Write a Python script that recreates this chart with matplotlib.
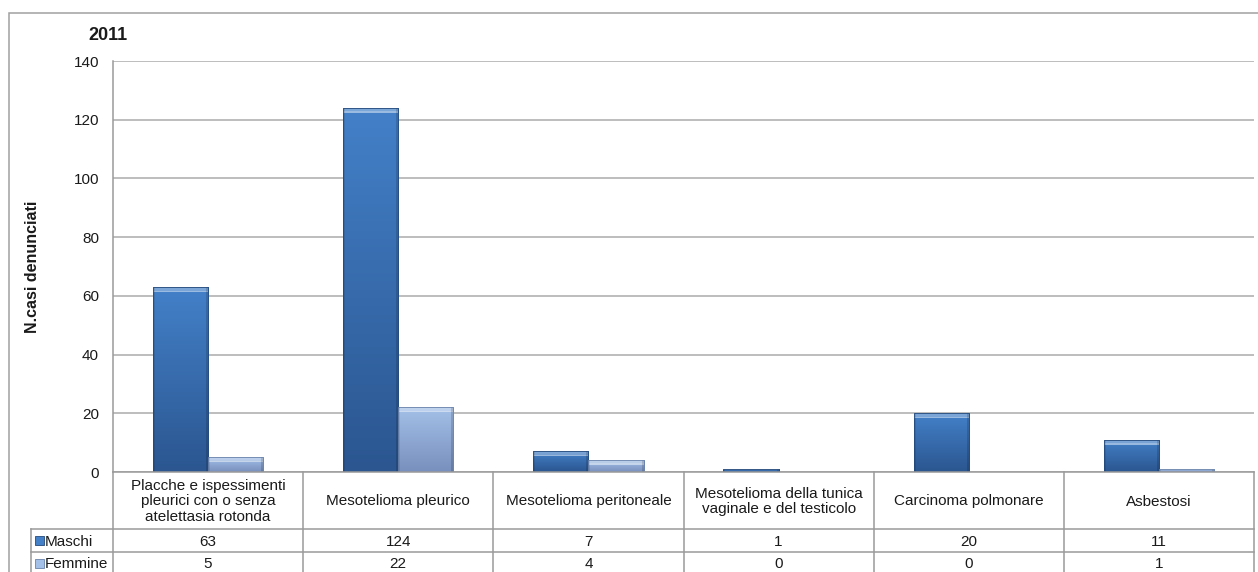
import numpy as np
import matplotlib
matplotlib.use("Agg")
import matplotlib.pyplot as plt
from matplotlib.patches import Rectangle
from matplotlib.lines import Line2D
from matplotlib.transforms import blended_transform_factory
from matplotlib.colors import LinearSegmentedColormap

plt.rcParams['font.family'] = ['Liberation Sans', 'DejaVu Sans']

# ---- data -------------------------------------------------------------
categories = [
    "Placche e ispessimenti\npleurici con o senza\natelettasia rotonda",
    "Mesotelioma pleurico",
    "Mesotelioma peritoneale",
    "Mesotelioma della tunica\nvaginale e del testicolo",
    "Carcinoma polmonare",
    "Asbestosi",
]
series_names = ["Maschi", "Femmine"]
maschi = [63, 124, 7, 1, 20, 11]
femmine = [5, 22, 4, 0, 0, 1]
yticks = [0, 20, 40, 60, 80, 100, 120, 140]
title = "2011"
ylabel = "N.casi denunciati"

# ---- styling ----------------------------------------------------------
W, H = 1258, 572
DPI = 100
grad_m = ["#4380c8", "#2b5690"]   # top -> bottom
grad_f = ["#a3c0e8", "#7890bd"]
edge_m = "#24497a"
edge_f = "#6a82ab"
line_c = "#9a9a9a"
grid_c = "#ababab"
txt_c = "#1a1a1a"
FS = 11

fig = plt.figure(figsize=(W / DPI, H / DPI), dpi=DPI)
fig.patch.set_facecolor("white")


def fx(px):
    return px / W


def fy(py):  # py measured from the top
    return 1 - py / H


ax_left, ax_right, ax_top, ax_bot = 113, 1254, 61, 472
ax = fig.add_axes([fx(ax_left), fy(ax_bot), fx(ax_right - ax_left), (ax_bot - ax_top) / H])

n = len(categories)
x = np.arange(n)
bw = 0.29

ax.set_xlim(-0.5, n - 0.5)
ax.set_ylim(0, 140)
ax.set_yticks(yticks)
ax.set_yticklabels([str(t) for t in yticks], fontsize=FS, color=txt_c)
ax.tick_params(axis='y', length=0, pad=10)
ax.set_xticks([])
ax.yaxis.grid(True, color=grid_c, lw=1.1)
ax.set_axisbelow(True)
for s in ["top", "right", "bottom"]:
    ax.spines[s].set_visible(False)
ax.spines["left"].set_color(line_c)
ax.spines["left"].set_linewidth(1.1)

bars_m = ax.bar(x - bw / 2, maschi, bw, color=grad_m[0], edgecolor=edge_m, lw=0.6, zorder=3)
bars_f = ax.bar(x + bw / 2, femmine, bw, color=grad_f[0], edgecolor=edge_f, lw=0.6, zorder=3)

fig.canvas.draw()
px_per_unit = ax.transData.transform((0, 1))[1] - ax.transData.transform((0, 0))[1]
px_per_xunit = ax.transData.transform((1, 0))[0] - ax.transData.transform((0, 0))[0]


def shade(bars, colors):
    cmap = LinearSegmentedColormap.from_list("g", colors)
    for b in bars:
        h = b.get_height()
        if h <= 0:
            continue
        x0, w = b.get_x(), b.get_width()
        # row 0 sits at the bottom: value 1 -> bottom colour, value 0 -> top colour
        grad = np.linspace(1, 0, 64).reshape(-1, 1)
        im = ax.imshow(grad, cmap=cmap, vmin=0, vmax=1, aspect='auto', origin='lower',
                       extent=(x0, x0 + w, 0, h), zorder=3.5, interpolation='bicubic')
        im.set_clip_path(b)
        # lighter bevel along the top edge
        bev = min(5.0 / px_per_unit, h * 0.4)
        ax.add_patch(Rectangle((x0, h - bev), w, bev, facecolor="white", alpha=0.30,
                               lw=0, zorder=3.6))
        thin = min(1.5 / px_per_unit, h * 0.3)
        ax.add_patch(Rectangle((x0, h - bev), w, thin, facecolor="white", alpha=0.25,
                               lw=0, zorder=3.6))
        # darker side edges
        side = 2.0 / px_per_xunit
        ax.add_patch(Rectangle((x0 + w - side, 0), side, h, facecolor="black", alpha=0.15,
                               lw=0, zorder=3.6))
        ax.add_patch(Rectangle((x0, 0), side, h, facecolor="black", alpha=0.10,
                               lw=0, zorder=3.6))
        ax.add_patch(Rectangle((x0, 0), w, h, facecolor="none", edgecolor=b.get_edgecolor(),
                               lw=0.6, zorder=3.7))


shade(bars_m, grad_m)
shade(bars_f, grad_f)
ax.set_xlim(-0.5, n - 0.5)
ax.set_ylim(0, 140)

# ---- outer frame, title, y label --------------------------------------
fig.add_artist(Rectangle((fx(9), fy(H + 10)), fx(W + 10), (H + 10 - 13) / H,
                         transform=fig.transFigure, facecolor="none",
                         edgecolor="#a0a0a0", lw=1.1))
fig.text(fx(108), fy(36), title, fontsize=13, fontweight="bold", ha="center",
         va="center", color=txt_c)
fig.text(fx(33), fy((ax_top + ax_bot) / 2), ylabel, fontsize=11.5, fontweight="bold",
         rotation=90, ha="center", va="center", color=txt_c)

# ---- data table under the axis ----------------------------------------
tr = blended_transform_factory(ax.transData, fig.transFigure)
row_y = [472, 529, 552, H + 5]
lbl_left = 31


def hline(x0, x1, py):
    fig.add_artist(Line2D([fx(x0), fx(x1)], [fy(py), fy(py)], transform=fig.transFigure,
                          color=line_c, lw=1.1))


hline(ax_left, ax_right, row_y[0])
hline(lbl_left, ax_right, row_y[1])
hline(lbl_left, ax_right, row_y[2])
fig.add_artist(Line2D([fx(lbl_left)] * 2, [fy(row_y[1]), fy(row_y[3])],
                      transform=fig.transFigure, color=line_c, lw=1.1))
for b in np.arange(n + 1) - 0.5:
    fig.add_artist(Line2D([b, b], [fy(row_y[0]), fy(row_y[3])], transform=tr,
                          color=line_c, lw=1.1))

for i, c in enumerate(categories):
    fig.text(i, fy((row_y[0] + row_y[1]) / 2 + 1), c, transform=tr, ha="center",
             va="center", fontsize=FS, color=txt_c, linespacing=1.12)
    fig.text(i, fy((row_y[1] + row_y[2]) / 2 + 1), str(maschi[i]), transform=tr,
             ha="center", va="center", fontsize=FS, color=txt_c)
    fig.text(i, fy((row_y[2] + row_y[3]) / 2 - 1), str(femmine[i]), transform=tr,
             ha="center", va="center", fontsize=FS, color=txt_c)

# legend keys in the row headers
for k, (name, cols, ec) in enumerate(zip(series_names, [grad_m, grad_f], [edge_m, edge_f])):
    yc = (row_y[1 + k] + row_y[2 + k]) / 2 + (0 if k == 0 else -1)
    fig.add_artist(Rectangle((fx(35), fy(yc + 4.5)), fx(9), 9 / H, transform=fig.transFigure,
                             facecolor=cols[0], edgecolor=ec, lw=0.6))
    fig.text(fx(45), fy(yc + 1), name, ha="left", va="center",
             fontsize=FS, color=txt_c)

fig.savefig("out.png", dpi=DPI, facecolor="white")
